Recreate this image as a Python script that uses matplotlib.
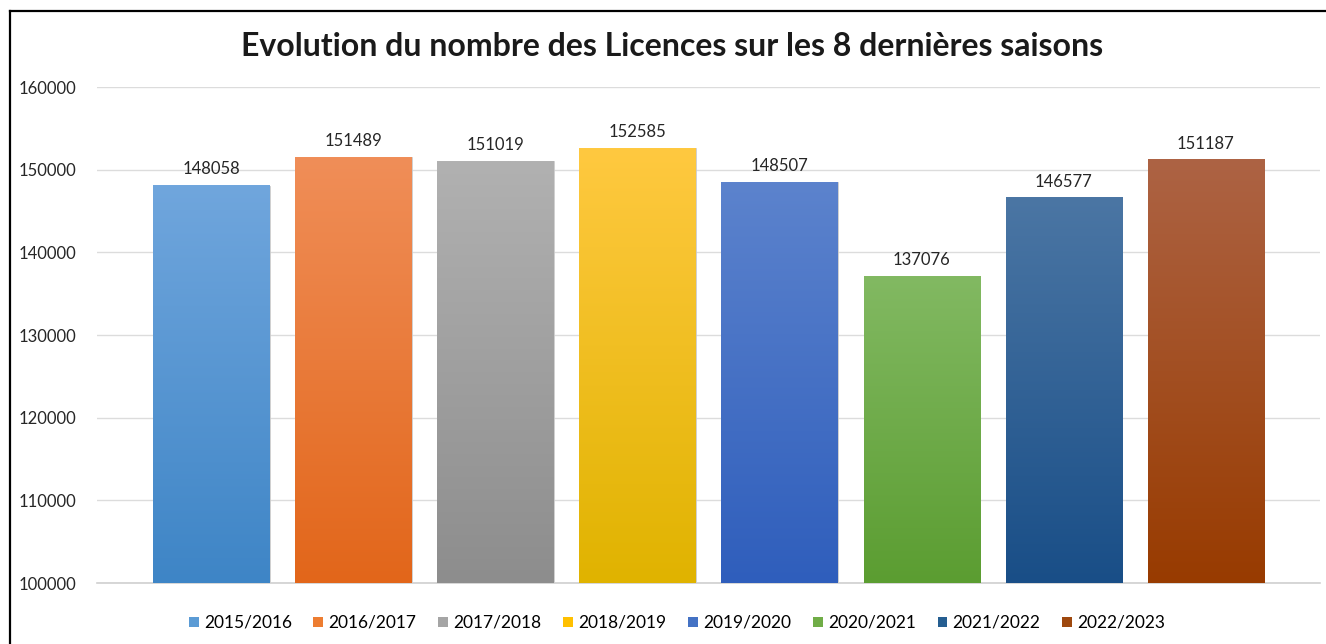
import numpy as np
import matplotlib
matplotlib.use("Agg")
import matplotlib.pyplot as plt
from matplotlib.colors import LinearSegmentedColormap
from matplotlib.patches import Patch
from matplotlib.lines import Line2D

plt.rcParams['font.family'] = ['Lato', 'DejaVu Sans']

# data
seasons = ["2015/2016", "2016/2017", "2017/2018", "2018/2019",
           "2019/2020", "2020/2021", "2021/2022", "2022/2023"]
licences = [148058, 151489, 151019, 152585, 148507, 137076, 146577, 151187]
yticks = [100000, 110000, 120000, 130000, 140000, 150000, 160000]

# (top colour, bottom colour) of each gradient bar
top_cols = ["#70a6dd", "#f08e58", "#b1b1b1", "#ffc940",
            "#5c83cd", "#82b962", "#4b76a4", "#ad6344"]
bot_cols = ["#3e85c6", "#e2661a", "#8d8d8d", "#e0b300",
            "#2f5ebc", "#5b9d31", "#194e87", "#983b00"]
legend_cols = ["#5b9bd5", "#ed7d31", "#a5a5a5", "#ffc000",
               "#4472c4", "#70ad47", "#255e91", "#9e480e"]

W, H = 1326, 644
fig = plt.figure(figsize=(W / 100, H / 100), dpi=100)
ax = fig.add_axes([97 / W, 1 - 583 / H, (1320 - 97) / W, (583 - 87) / H])

ymin, ymax = 100000, 160000
width = 0.82
x = np.arange(len(seasons))

for i, v in enumerate(licences):
    cmap = LinearSegmentedColormap.from_list("g%d" % i, [bot_cols[i], top_cols[i]])
    grad = np.linspace(1, 0, 256).reshape(-1, 1)
    ax.imshow(grad, cmap=cmap, aspect="auto", vmin=0, vmax=1,
              extent=[x[i] - width / 2, x[i] + width / 2, ymin, v], zorder=3)
    ax.bar(x[i], v - ymin, bottom=ymin, width=width, color="none",
           edgecolor="#c8c8c8", linewidth=0.6, zorder=2)
    ax.annotate(str(v), (x[i], v), xytext=(0, 6), textcoords="offset points",
                ha="center", va="bottom", fontsize=12, color="#262626")

ax.set_xlim(-0.806, len(seasons) - 1 + 0.803)
ax.set_ylim(ymin, ymax)
ax.set_yticks(yticks)
ax.set_yticklabels([str(t) for t in yticks], fontsize=12, color="#262626")
ax.set_xticks([])
ax.tick_params(axis="y", length=0, pad=15)
for s in ["top", "right", "left"]:
    ax.spines[s].set_visible(False)
ax.spines["bottom"].set_color("#d0d0d0")
ax.spines["bottom"].set_linewidth(1.2)
ax.grid(axis="y", color="#dcdcdc", linewidth=1.0, zorder=0)
ax.set_axisbelow(True)

fig.text(672 / W, 1 - 46 / H, "Evolution du nombre des Licences sur les 8 dernières saisons",
         ha="center", va="center", fontsize=23, fontweight="bold", color="#1a1a1a")

handles = [Patch(facecolor=c, edgecolor="none") for c in legend_cols]
fig.legend(handles, seasons, loc="center", bbox_to_anchor=(677 / W, 1 - 623 / H),
           ncol=8, frameon=False, fontsize=12.5, handlelength=0.57, handleheight=0.57,
           handletextpad=0.3, columnspacing=1.25)

# partial frame visible at top and left
fig.add_artist(Line2D([10 / W, 1], [1 - 11 / H, 1 - 11 / H], color="black", linewidth=1.6))
fig.add_artist(Line2D([10 / W, 10 / W], [0, 1 - 11 / H], color="black", linewidth=1.6))

fig.savefig("out.png", dpi=100, facecolor="white")
